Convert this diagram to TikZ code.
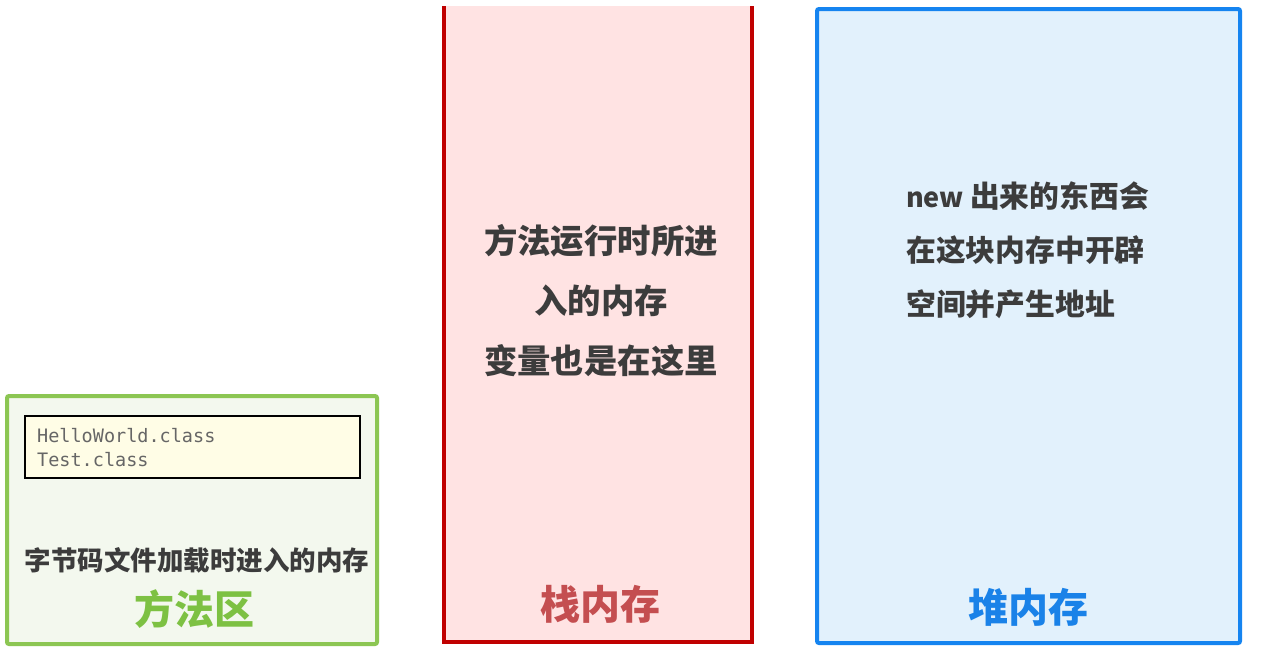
\documentclass[tikz,border=0pt]{standalone}
\usepackage{fontspec}
\newfontfamily\cjk{Noto Sans CJK SC}
\newfontfamily\codefont{DejaVu Sans Mono}
\definecolor{mgreen}{HTML}{8CC653}
\definecolor{mgreenfill}{HTML}{F3F8EE}
\definecolor{mgreentext}{HTML}{7DC143}
\definecolor{sred}{HTML}{C00000}
\definecolor{sredfill}{HTML}{FFE3E3}
\definecolor{sredtext}{HTML}{C44E50}
\definecolor{hblue}{HTML}{1584F0}
\definecolor{hbluefill}{HTML}{E2F1FC}
\definecolor{hbluetext}{HTML}{1A82E8}
\definecolor{bodytext}{HTML}{3C3C3C}
\definecolor{classfill}{HTML}{FFFDE6}
\tikzset{
  body/.style={font=\cjk\bfseries\fontsize{33.4}{40}\selectfont, text=bodytext, inner sep=0pt},
  heapbody/.style={body, anchor=west, font=\cjk\bfseries\fontsize{29.8}{34}\selectfont},
  title/.style={font=\cjk\bfseries\fontsize{40}{44}\selectfont, inner sep=0pt},
}
\begin{document}
\begin{tikzpicture}[x=1pt,y=-1pt]
\useasboundingbox (0,0) rectangle (1268,651);
\fill[white] (0,0) rectangle (1268,651);

% method area
\draw[mgreen, line width=4pt, fill=mgreenfill, rounded corners=2pt] (7,396) rectangle (377,644);
\node[draw=black, line width=1.4pt, fill=classfill, minimum width=335pt, minimum height=62pt, inner sep=0pt] (cls) at (192.5,447) {};
\node[anchor=west, align=left, font=\codefont\fontsize{18.5}{24}\selectfont, text=black!60, inner sep=0pt] (clstxt) at (37,448) {HelloWorld.class\\Test.class};
\node[body, font=\cjk\bfseries\fontsize{26.5}{30}\selectfont] (madesc) at (197,560) {字节码文件加载时进入的内存};
\node[title, text=mgreentext] (matitle) at (194,609) {方法区};

% stack
\fill[sredfill] (444,6) rectangle (752,642);
\draw[sred, line width=4pt] (444,6) -- (444,642) -- (752,642) -- (752,6);
\node[body] (s1) at (601,241) {方法运行时所进};
\node[body] (s2) at (601,301) {入的内存};
\node[body] (s3) at (601,361) {变量也是在这里};
\node[title, text=sredtext] (stitle) at (600,604) {栈内存};

% heap
\draw[hblue, line width=4pt, fill=hbluefill, rounded corners=2pt] (817,9) rectangle (1240,643);
\node[heapbody] (h1) at (906,196) {{\fontsize{27}{34}\selectfont new}\hspace{6pt}出来的东西会};
\node[heapbody] (h2) at (906,250) {在这块内存中开辟};
\node[heapbody] (h3) at (906,304) {空间并产生地址};
\node[title, text=hbluetext] (htitle) at (1028,607) {堆内存};
\end{tikzpicture}
\end{document}
